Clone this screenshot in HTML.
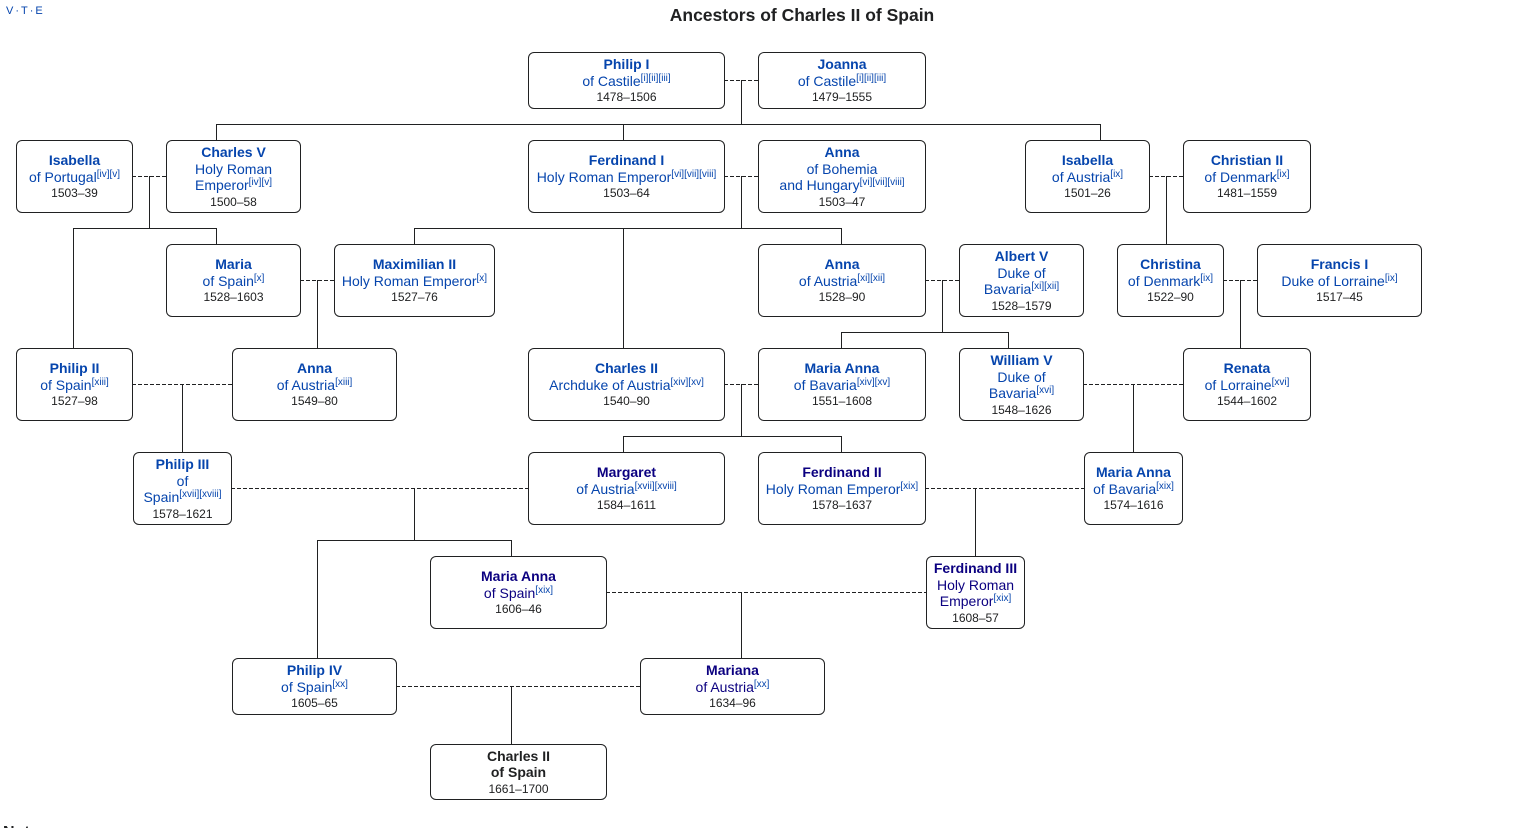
<!DOCTYPE html>
<html><head><meta charset="utf-8">
<style>
html,body{margin:0;padding:0;background:#fff;overflow:hidden;width:1531px;height:828px;}
#w{width:1531px;height:828px;position:relative;overflow:hidden;font-family:"Liberation Sans",Arial,sans-serif;color:#202122;}
.b{position:absolute;box-sizing:border-box;border:1px solid #202122;border-radius:6px;background:#fff;display:flex;flex-direction:column;justify-content:center;align-items:center;text-align:center;white-space:nowrap;padding-top:1px;}
.n{font-weight:bold;font-size:14px;line-height:16.5px;color:#0645ad;}
.s{font-size:14px;line-height:16.5px;color:#0645ad;}
.d{font-size:12px;line-height:16.5px;color:#202122;}
.v{color:#0b0080;}
sup{font-size:10px;line-height:0;position:relative;top:-5px;vertical-align:baseline;color:#0645ad;}
.title{position:absolute;left:0;width:1604px;top:5px;text-align:center;font-weight:bold;font-size:17.5px;color:#202122;}
.vte{position:absolute;left:6px;top:5px;font-size:11px;color:#0645ad;letter-spacing:2px;}
.notes{position:absolute;left:3px;top:824px;font-weight:bold;font-size:16px;line-height:18px;color:#202122;}
svg{position:absolute;left:0;top:0;}
</style></head><body><div id="w">
<div class="vte">V·T·E</div>
<div class="title">Ancestors of Charles II of Spain</div>
<svg width="1531" height="828" viewBox="0 0 1531 828">
<g stroke="#202122" stroke-width="1" fill="none" shape-rendering="crispEdges">
<path d="M741.5 80V124.5 M216 124.5H1100.5 M216.5 124V140 M623.5 124V140 M1100.5 124V140
M149.5 176V228.5 M73 228.5H216.5 M73.5 228V348 M216.5 228V244
M741.5 176V228.5 M414 228.5H841.5 M414.5 228V244 M623.5 228V348 M841.5 228V244
M1166.5 176V244
M317.5 280V348
M942.5 280V332.5 M841 332.5H1008.5 M841.5 332V348 M1008.5 332V348
M1240.5 280V348
M182.5 384V452
M741.5 384V436.5 M623 436.5H841.5 M623.5 436V452 M841.5 436V452
M1133.5 384V452
M414.5 488V540.5 M317 540.5H511.5 M317.5 540V658 M511.5 540V556
M975.5 488V556
M741.5 592V658
M511.5 686V744"/>
</g>
<g stroke="#202122" stroke-width="1" fill="none" stroke-dasharray="4,2" shape-rendering="crispEdges">
<path d="M724 80.5H758
M132 176.5H166 M724 176.5H758 M1149 176.5H1183
M300 280.5H334 M925 280.5H959 M1223 280.5H1257
M132 384.5H232 M724 384.5H758 M1083 384.5H1183
M231 488.5H528 M925 488.5H1084
M606 592.5H926
M396 686.5H640"/>
</g>
</svg>

<div class="b" style="left:528px;top:52px;width:197px;height:57px"><div class="n">Philip I</div><div class="s">of Castile<sup>[i][ii][iii]</sup></div><div class="d">1478–1506</div></div>
<div class="b" style="left:758px;top:52px;width:168px;height:57px"><div class="n">Joanna</div><div class="s">of Castile<sup>[i][ii][iii]</sup></div><div class="d">1479–1555</div></div>

<div class="b" style="left:16px;top:140px;width:117px;height:73px"><div class="n">Isabella</div><div class="s">of Portugal<sup>[iv][v]</sup></div><div class="d">1503–39</div></div>
<div class="b" style="left:166px;top:140px;width:135px;height:73px"><div class="n">Charles V</div><div class="s">Holy Roman</div><div class="s">Emperor<sup>[iv][v]</sup></div><div class="d">1500–58</div></div>
<div class="b" style="left:528px;top:140px;width:197px;height:73px"><div class="n">Ferdinand I</div><div class="s">Holy Roman Emperor<sup>[vi][vii][viii]</sup></div><div class="d">1503–64</div></div>
<div class="b" style="left:758px;top:140px;width:168px;height:73px"><div class="n">Anna</div><div class="s">of Bohemia</div><div class="s">and Hungary<sup>[vi][vii][viii]</sup></div><div class="d">1503–47</div></div>
<div class="b" style="left:1025px;top:140px;width:125px;height:73px"><div class="n">Isabella</div><div class="s">of Austria<sup>[ix]</sup></div><div class="d">1501–26</div></div>
<div class="b" style="left:1183px;top:140px;width:128px;height:73px"><div class="n">Christian II</div><div class="s">of Denmark<sup>[ix]</sup></div><div class="d">1481–1559</div></div>

<div class="b" style="left:166px;top:244px;width:135px;height:73px"><div class="n">Maria</div><div class="s">of Spain<sup>[x]</sup></div><div class="d">1528–1603</div></div>
<div class="b" style="left:334px;top:244px;width:161px;height:73px"><div class="n">Maximilian II</div><div class="s">Holy Roman Emperor<sup>[x]</sup></div><div class="d">1527–76</div></div>
<div class="b" style="left:758px;top:244px;width:168px;height:73px"><div class="n">Anna</div><div class="s">of Austria<sup>[xi][xii]</sup></div><div class="d">1528–90</div></div>
<div class="b" style="left:959px;top:244px;width:125px;height:73px"><div class="n">Albert V</div><div class="s">Duke of</div><div class="s">Bavaria<sup>[xi][xii]</sup></div><div class="d">1528–1579</div></div>
<div class="b" style="left:1117px;top:244px;width:107px;height:73px"><div class="n">Christina</div><div class="s">of Denmark<sup>[ix]</sup></div><div class="d">1522–90</div></div>
<div class="b" style="left:1257px;top:244px;width:165px;height:73px"><div class="n">Francis I</div><div class="s">Duke of Lorraine<sup>[ix]</sup></div><div class="d">1517–45</div></div>

<div class="b" style="left:16px;top:348px;width:117px;height:73px"><div class="n">Philip II</div><div class="s">of Spain<sup>[xiii]</sup></div><div class="d">1527–98</div></div>
<div class="b" style="left:232px;top:348px;width:165px;height:73px"><div class="n">Anna</div><div class="s">of Austria<sup>[xiii]</sup></div><div class="d">1549–80</div></div>
<div class="b" style="left:528px;top:348px;width:197px;height:73px"><div class="n">Charles II</div><div class="s">Archduke of Austria<sup>[xiv][xv]</sup></div><div class="d">1540–90</div></div>
<div class="b" style="left:758px;top:348px;width:168px;height:73px"><div class="n">Maria Anna</div><div class="s">of Bavaria<sup>[xiv][xv]</sup></div><div class="d">1551–1608</div></div>
<div class="b" style="left:959px;top:348px;width:125px;height:73px"><div class="n">William V</div><div class="s">Duke of</div><div class="s">Bavaria<sup>[xvi]</sup></div><div class="d">1548–1626</div></div>
<div class="b" style="left:1183px;top:348px;width:128px;height:73px"><div class="n">Renata</div><div class="s">of Lorraine<sup>[xvi]</sup></div><div class="d">1544–1602</div></div>

<div class="b" style="left:133px;top:452px;width:99px;height:73px"><div class="n">Philip III</div><div class="s">of</div><div class="s">Spain<sup>[xvii][xviii]</sup></div><div class="d">1578–1621</div></div>
<div class="b" style="left:528px;top:452px;width:197px;height:73px"><div class="n v">Margaret</div><div class="s">of Austria<sup>[xvii][xviii]</sup></div><div class="d">1584–1611</div></div>
<div class="b" style="left:758px;top:452px;width:168px;height:73px"><div class="n v">Ferdinand II</div><div class="s">Holy Roman Emperor<sup>[xix]</sup></div><div class="d">1578–1637</div></div>
<div class="b" style="left:1084px;top:452px;width:99px;height:73px"><div class="n">Maria Anna</div><div class="s">of Bavaria<sup>[xix]</sup></div><div class="d">1574–1616</div></div>

<div class="b" style="left:430px;top:556px;width:177px;height:73px"><div class="n v">Maria Anna</div><div class="s v">of Spain<sup>[xix]</sup></div><div class="d">1606–46</div></div>
<div class="b" style="left:926px;top:556px;width:99px;height:73px"><div class="n v">Ferdinand III</div><div class="s v">Holy Roman</div><div class="s v">Emperor<sup>[xix]</sup></div><div class="d">1608–57</div></div>

<div class="b" style="left:232px;top:658px;width:165px;height:57px"><div class="n">Philip IV</div><div class="s">of Spain<sup>[xx]</sup></div><div class="d">1605–65</div></div>
<div class="b" style="left:640px;top:658px;width:185px;height:57px"><div class="n v">Mariana</div><div class="s v">of Austria<sup>[xx]</sup></div><div class="d">1634–96</div></div>

<div class="b" style="left:430px;top:744px;width:177px;height:56px"><div class="n" style="color:#202122">Charles II</div><div class="n" style="color:#202122">of Spain</div><div class="d">1661–1700</div></div>

<div class="notes">Notes</div>
</div></body></html>
